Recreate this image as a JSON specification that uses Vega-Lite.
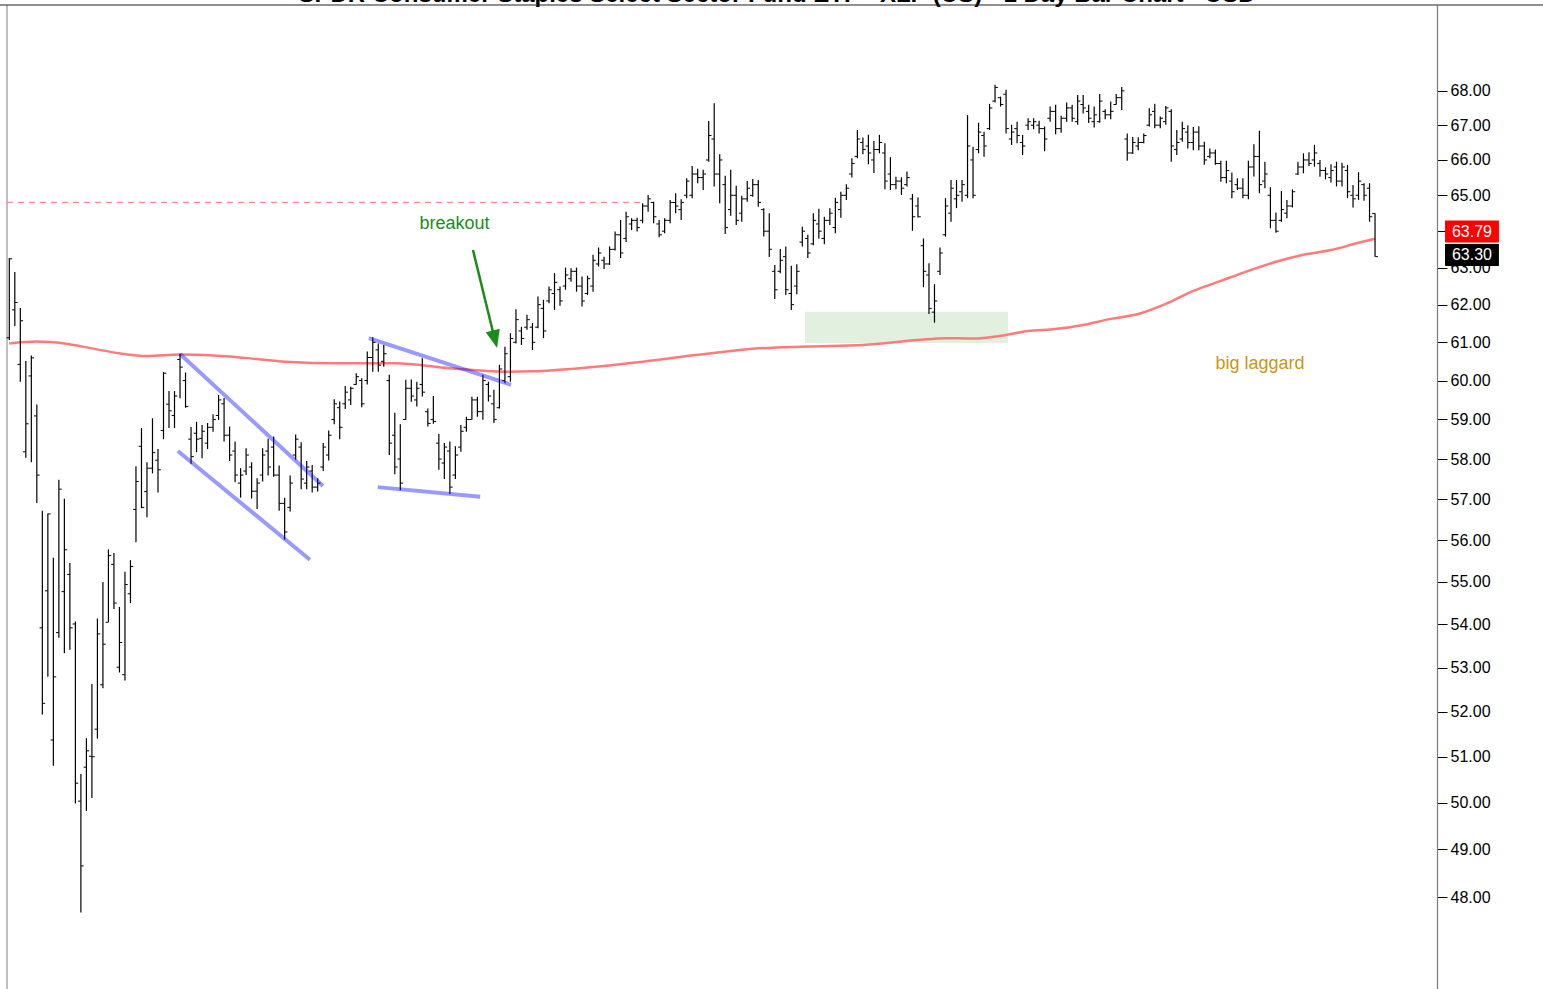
{
  "$schema": "https://vega.github.io/schema/vega-lite/v6.json",
  "width": 1430,
  "height": 984,
  "autosize": {"type": "none"},
  "padding": {"left": 7, "top": 5, "right": 106, "bottom": 0},
  "background": "white",
  "config": {"view": {"stroke": null}, "font": "Liberation Sans"},
  "datasets": {
    "bars": [
      {"i":0,"o":61.12,"h":63.26,"l":61.06,"c":63.24},{"i":1,"o":61.86,"h":62.88,"l":61.43,"c":62.06},{"i":2,"o":60.42,"h":61.91,"l":59.97,"c":61.57},{"i":3,"o":58.18,"h":60.51,"l":58.03,"c":58.89},{"i":4,"o":60.12,"h":60.65,"l":57.92,"c":60.59},
      {"i":5,"o":59.09,"h":59.38,"l":56.91,"c":57.6},{"i":6,"o":53.92,"h":56.72,"l":51.94,"c":52.19},{"i":7,"o":54.79,"h":56.65,"l":52.79,"c":56.64},{"i":8,"o":51.37,"h":55.58,"l":50.8,"c":52.79},{"i":9,"o":53.81,"h":57.48,"l":53.69,"c":57.25},
      {"i":10,"o":54.77,"h":57.01,"l":53.33,"c":55.77},{"i":11,"o":55.18,"h":55.45,"l":53.41,"c":53.92},{"i":12,"o":54.01,"h":54.07,"l":49.98,"c":50.42},{"i":13,"o":50.03,"h":50.62,"l":47.68,"c":48.65},{"i":14,"o":50.77,"h":51.41,"l":49.82,"c":51.13},
      {"i":15,"o":51.01,"h":52.63,"l":50.1,"c":51.0},{"i":16,"o":51.61,"h":54.14,"l":51.4,"c":53.78},{"i":17,"o":52.61,"h":55.0,"l":52.53,"c":53.54},{"i":18,"o":54.05,"h":55.78,"l":54.05,"c":55.63},{"i":19,"o":55.42,"h":55.69,"l":54.36,"c":54.5},
      {"i":20,"o":53.01,"h":54.41,"l":52.89,"c":53.58},{"i":21,"o":52.84,"h":55.24,"l":52.71,"c":54.94},{"i":22,"o":54.72,"h":55.52,"l":54.5,"c":55.37},{"i":23,"o":56.75,"h":57.82,"l":55.95,"c":57.44},{"i":24,"o":58.32,"h":58.78,"l":56.78,"c":56.8},
      {"i":25,"o":57.19,"h":57.92,"l":56.56,"c":57.77},{"i":26,"o":57.77,"h":59.03,"l":57.64,"c":58.16},{"i":27,"o":57.97,"h":58.25,"l":57.17,"c":57.73},{"i":28,"o":58.72,"h":60.22,"l":58.5,"c":60.19},{"i":29,"o":59.39,"h":59.73,"l":58.78,"c":59.22},
      {"i":30,"o":59.1,"h":59.73,"l":58.78,"c":59.6},{"i":31,"o":60.55,"h":60.7,"l":59.54,"c":60.35},{"i":32,"o":60.0,"h":60.21,"l":59.3,"c":59.33},{"i":33,"o":58.5,"h":58.81,"l":57.88,"c":58.06},{"i":34,"o":58.65,"h":58.94,"l":58.17,"c":58.5},
      {"i":35,"o":58.52,"h":58.86,"l":58.02,"c":58.7},{"i":36,"o":58.4,"h":58.91,"l":58.25,"c":58.8},{"i":37,"o":58.8,"h":59.13,"l":58.69,"c":59.0},{"i":38,"o":59.1,"h":59.63,"l":58.99,"c":59.5},{"i":39,"o":59.4,"h":59.55,"l":58.44,"c":58.6},
      {"i":40,"o":58.6,"h":58.82,"l":57.95,"c":58.1},{"i":41,"o":58.2,"h":58.44,"l":57.42,"c":57.6},{"i":42,"o":57.4,"h":57.77,"l":57.04,"c":57.6},{"i":43,"o":57.7,"h":58.27,"l":57.6,"c":58.1},{"i":44,"o":57.8,"h":57.92,"l":57.02,"c":57.2},
      {"i":45,"o":57.2,"h":57.52,"l":56.76,"c":57.4},{"i":46,"o":57.6,"h":58.27,"l":57.44,"c":58.1},{"i":47,"o":58.2,"h":58.51,"l":57.59,"c":57.8},{"i":48,"o":58.3,"h":58.57,"l":57.56,"c":57.6},{"i":49,"o":57.6,"h":57.84,"l":56.72,"c":56.9},
      {"i":50,"o":56.9,"h":57.04,"l":56.02,"c":56.2},{"i":51,"o":56.8,"h":57.59,"l":56.7,"c":57.4},{"i":52,"o":58.1,"h":58.62,"l":57.98,"c":58.5},{"i":53,"o":58.3,"h":58.42,"l":57.25,"c":57.5},{"i":54,"o":57.4,"h":57.95,"l":57.25,"c":57.8},
      {"i":55,"o":57.7,"h":57.85,"l":57.17,"c":57.3},{"i":56,"o":57.3,"h":57.52,"l":57.19,"c":57.4},{"i":57,"o":57.8,"h":58.4,"l":57.7,"c":58.3},{"i":58,"o":58.1,"h":58.72,"l":57.96,"c":58.6},{"i":59,"o":59.0,"h":59.52,"l":58.88,"c":59.4},
      {"i":60,"o":59.3,"h":59.46,"l":58.5,"c":58.8},{"i":61,"o":59.4,"h":59.86,"l":59.27,"c":59.7},{"i":62,"o":59.5,"h":59.84,"l":59.37,"c":59.8},{"i":63,"o":59.9,"h":60.19,"l":59.89,"c":60.1},{"i":64,"o":60.0,"h":60.06,"l":59.31,"c":59.4},
      {"i":65,"o":60.0,"h":60.76,"l":59.9,"c":60.6},{"i":66,"o":60.6,"h":61.13,"l":60.23,"c":61.0},{"i":67,"o":60.8,"h":60.97,"l":60.23,"c":60.4},{"i":68,"o":60.5,"h":60.93,"l":60.36,"c":60.7},{"i":69,"o":60.0,"h":60.15,"l":58.1,"c":58.4},
      {"i":70,"o":58.6,"h":59.17,"l":57.62,"c":57.8},{"i":71,"o":58.0,"h":58.88,"l":57.22,"c":57.4},{"i":72,"o":59.0,"h":60.02,"l":58.99,"c":59.8},{"i":73,"o":59.8,"h":60.03,"l":59.45,"c":59.6},{"i":74,"o":59.5,"h":59.97,"l":59.33,"c":59.8},
      {"i":75,"o":59.9,"h":60.58,"l":59.59,"c":59.7},{"i":76,"o":59.2,"h":59.28,"l":58.82,"c":58.9},{"i":77,"o":59.0,"h":59.6,"l":58.89,"c":58.95},{"i":78,"o":58.4,"h":58.63,"l":57.73,"c":58.0},{"i":79,"o":57.9,"h":58.4,"l":57.5,"c":58.3},
      {"i":80,"o":58.2,"h":58.44,"l":57.13,"c":57.3},{"i":81,"o":57.6,"h":58.32,"l":57.5,"c":58.1},{"i":82,"o":58.3,"h":58.86,"l":58.18,"c":58.7},{"i":83,"o":58.8,"h":59.07,"l":58.69,"c":59.0},{"i":84,"o":59.0,"h":59.58,"l":58.99,"c":59.5},
      {"i":85,"o":59.5,"h":59.58,"l":59.07,"c":59.2},{"i":86,"o":59.2,"h":60.15,"l":58.99,"c":60.0},{"i":87,"o":59.9,"h":59.97,"l":59.46,"c":59.6},{"i":88,"o":59.4,"h":59.76,"l":58.91,"c":59.0},{"i":89,"o":59.3,"h":60.41,"l":59.28,"c":60.3},
      {"i":90,"o":60.0,"h":60.88,"l":59.93,"c":60.7},{"i":91,"o":60.1,"h":61.24,"l":59.97,"c":61.1},{"i":92,"o":61.0,"h":61.88,"l":60.97,"c":61.6},{"i":93,"o":61.3,"h":61.41,"l":60.93,"c":61.1},{"i":94,"o":61.4,"h":61.73,"l":61.33,"c":61.6},
      {"i":95,"o":61.4,"h":61.51,"l":60.8,"c":61.0},{"i":96,"o":61.4,"h":62.22,"l":61.37,"c":62.0},{"i":97,"o":61.9,"h":62.13,"l":61.11,"c":61.3},{"i":98,"o":62.1,"h":62.49,"l":62.04,"c":62.4},{"i":99,"o":62.3,"h":62.85,"l":61.86,"c":62.6},
      {"i":100,"o":62.4,"h":62.49,"l":61.97,"c":62.1},{"i":101,"o":62.5,"h":63.0,"l":62.4,"c":62.8},{"i":102,"o":62.7,"h":62.98,"l":62.62,"c":62.9},{"i":103,"o":62.9,"h":63.0,"l":62.35,"c":62.5},{"i":104,"o":62.5,"h":62.76,"l":61.95,"c":62.1},
      {"i":105,"o":62.3,"h":62.78,"l":62.26,"c":62.7},{"i":106,"o":62.5,"h":63.35,"l":62.35,"c":63.2},{"i":107,"o":63.1,"h":63.55,"l":63.03,"c":63.4},{"i":108,"o":63.2,"h":63.3,"l":62.96,"c":63.1},{"i":109,"o":63.1,"h":63.58,"l":63.07,"c":63.5},
      {"i":110,"o":63.5,"h":63.99,"l":63.47,"c":63.9},{"i":111,"o":63.9,"h":64.31,"l":63.26,"c":63.4},{"i":112,"o":63.8,"h":64.54,"l":63.7,"c":64.4},{"i":113,"o":64.2,"h":64.36,"l":64.03,"c":64.3},{"i":114,"o":64.3,"h":64.37,"l":63.99,"c":64.1},
      {"i":115,"o":64.3,"h":64.78,"l":64.22,"c":64.7},{"i":116,"o":64.7,"h":65.01,"l":64.54,"c":64.9},{"i":117,"o":64.8,"h":64.82,"l":64.22,"c":64.4},{"i":118,"o":64.2,"h":64.31,"l":63.83,"c":63.9},{"i":119,"o":64.0,"h":64.36,"l":63.94,"c":64.3},
      {"i":120,"o":64.3,"h":64.87,"l":64.22,"c":64.8},{"i":121,"o":64.8,"h":65.06,"l":64.5,"c":64.7},{"i":122,"o":64.6,"h":64.89,"l":64.31,"c":64.8},{"i":123,"o":65.0,"h":65.48,"l":64.92,"c":65.4},{"i":124,"o":65.0,"h":65.83,"l":64.92,"c":65.6},
      {"i":125,"o":65.6,"h":65.75,"l":65.34,"c":65.5},{"i":126,"o":65.5,"h":65.72,"l":65.15,"c":65.6},{"i":127,"o":66.0,"h":67.12,"l":65.95,"c":66.7},{"i":128,"o":66.6,"h":67.64,"l":65.25,"c":65.6},{"i":129,"o":65.6,"h":66.16,"l":64.78,"c":66.0},
      {"i":130,"o":65.3,"h":65.55,"l":63.92,"c":64.1},{"i":131,"o":64.6,"h":65.72,"l":64.43,"c":65.0},{"i":132,"o":65.0,"h":65.27,"l":64.17,"c":64.3},{"i":133,"o":64.5,"h":64.99,"l":64.26,"c":64.9},{"i":134,"o":64.9,"h":65.4,"l":64.82,"c":65.2},
      {"i":135,"o":65.0,"h":65.46,"l":64.96,"c":65.3},{"i":136,"o":65.3,"h":65.43,"l":64.68,"c":64.8},{"i":137,"o":64.6,"h":64.64,"l":63.85,"c":64.0},{"i":138,"o":64.0,"h":64.5,"l":63.29,"c":63.5},{"i":139,"o":62.9,"h":63.07,"l":62.15,"c":62.4},
      {"i":140,"o":62.9,"h":63.51,"l":62.85,"c":63.2},{"i":141,"o":63.3,"h":63.58,"l":62.26,"c":62.4},{"i":142,"o":62.3,"h":63.05,"l":61.86,"c":62.0},{"i":143,"o":62.5,"h":63.09,"l":62.28,"c":62.9},{"i":144,"o":63.7,"h":64.12,"l":63.58,"c":64.0},
      {"i":145,"o":63.8,"h":63.9,"l":63.26,"c":63.4},{"i":146,"o":63.65,"h":64.5,"l":63.61,"c":64.3},{"i":147,"o":64.2,"h":64.62,"l":63.8,"c":64.0},{"i":148,"o":63.8,"h":64.4,"l":63.64,"c":64.3},{"i":149,"o":64.3,"h":64.64,"l":64.17,"c":64.5},
      {"i":150,"o":64.1,"h":64.93,"l":63.94,"c":64.8},{"i":151,"o":64.6,"h":65.1,"l":64.37,"c":65.0},{"i":152,"o":65.0,"h":65.31,"l":64.87,"c":65.2},{"i":153,"o":65.6,"h":66.05,"l":65.5,"c":65.9},{"i":154,"o":66.1,"h":66.86,"l":66.05,"c":66.6},
      {"i":155,"o":66.5,"h":66.64,"l":66.16,"c":66.3},{"i":156,"o":66.4,"h":66.72,"l":65.88,"c":66.2},{"i":157,"o":66.0,"h":66.54,"l":65.63,"c":66.3},{"i":158,"o":66.3,"h":66.72,"l":66.19,"c":66.5},{"i":159,"o":66.2,"h":66.48,"l":65.17,"c":65.4},
      {"i":160,"o":65.6,"h":66.08,"l":65.15,"c":65.3},{"i":161,"o":65.3,"h":65.52,"l":65.17,"c":65.4},{"i":162,"o":65.4,"h":65.51,"l":65.01,"c":65.2},{"i":163,"o":65.3,"h":65.67,"l":65.25,"c":65.5},{"i":164,"o":64.9,"h":65.04,"l":64.01,"c":64.4},
      {"i":165,"o":64.7,"h":64.94,"l":64.38,"c":64.4},{"i":166,"o":63.6,"h":63.8,"l":62.47,"c":62.9},{"i":167,"o":62.8,"h":63.12,"l":61.75,"c":61.9},{"i":168,"o":61.8,"h":62.55,"l":61.52,"c":62.1},{"i":169,"o":62.9,"h":63.55,"l":62.8,"c":63.4},
      {"i":170,"o":63.9,"h":64.92,"l":63.85,"c":64.7},{"i":171,"o":64.5,"h":65.43,"l":64.26,"c":65.2},{"i":172,"o":64.9,"h":65.43,"l":64.64,"c":65.0},{"i":173,"o":65.1,"h":65.43,"l":64.82,"c":65.3},{"i":174,"o":65.0,"h":67.29,"l":64.92,"c":66.4},
      {"i":175,"o":66.0,"h":66.38,"l":64.92,"c":65.0},{"i":176,"o":66.3,"h":67.07,"l":66.19,"c":66.8},{"i":177,"o":66.7,"h":66.81,"l":66.09,"c":66.4},{"i":178,"o":66.9,"h":67.62,"l":66.86,"c":67.5},{"i":179,"o":67.7,"h":68.18,"l":67.66,"c":68.1},
      {"i":180,"o":67.8,"h":67.83,"l":67.54,"c":67.6},{"i":181,"o":67.9,"h":68.03,"l":66.76,"c":66.9},{"i":182,"o":66.6,"h":67.01,"l":66.43,"c":66.8},{"i":183,"o":66.9,"h":67.1,"l":66.48,"c":66.7},{"i":184,"o":66.5,"h":66.72,"l":66.14,"c":66.4},
      {"i":185,"o":67.0,"h":67.2,"l":66.86,"c":67.1},{"i":186,"o":67.0,"h":67.2,"l":66.88,"c":67.1},{"i":187,"o":67.0,"h":67.13,"l":66.76,"c":66.9},{"i":188,"o":66.9,"h":66.96,"l":66.25,"c":66.6},{"i":189,"o":67.2,"h":67.54,"l":67.1,"c":67.4},
      {"i":190,"o":67.4,"h":67.59,"l":66.74,"c":66.9},{"i":191,"o":66.9,"h":67.27,"l":66.78,"c":67.2},{"i":192,"o":67.2,"h":67.66,"l":67.1,"c":67.5},{"i":193,"o":67.5,"h":67.59,"l":67.1,"c":67.2},{"i":194,"o":67.1,"h":67.88,"l":67.01,"c":67.7},
      {"i":195,"o":67.6,"h":67.88,"l":67.34,"c":67.5},{"i":196,"o":67.4,"h":67.59,"l":67.06,"c":67.2},{"i":197,"o":67.1,"h":67.54,"l":66.93,"c":67.3},{"i":198,"o":67.1,"h":67.91,"l":67.07,"c":67.7},{"i":199,"o":67.4,"h":67.46,"l":67.17,"c":67.3},
      {"i":200,"o":67.3,"h":67.69,"l":67.17,"c":67.4},{"i":201,"o":67.6,"h":67.91,"l":67.59,"c":67.8},{"i":202,"o":67.8,"h":68.11,"l":67.44,"c":68.0},{"i":203,"o":66.6,"h":66.76,"l":65.98,"c":66.2},{"i":204,"o":66.2,"h":66.66,"l":66.17,"c":66.5},
      {"i":205,"o":66.4,"h":66.65,"l":66.28,"c":66.5},{"i":206,"o":66.5,"h":66.76,"l":66.48,"c":66.7},{"i":207,"o":67.0,"h":67.49,"l":66.96,"c":67.3},{"i":208,"o":67.4,"h":67.62,"l":66.91,"c":67.0},{"i":209,"o":67.0,"h":67.25,"l":66.91,"c":67.2},
      {"i":210,"o":67.1,"h":67.56,"l":67.01,"c":67.5},{"i":211,"o":67.4,"h":67.46,"l":65.95,"c":66.4},{"i":212,"o":66.3,"h":66.86,"l":66.14,"c":66.5},{"i":213,"o":66.6,"h":67.1,"l":66.52,"c":66.9},{"i":214,"o":66.8,"h":67.0,"l":66.33,"c":66.5},
      {"i":215,"o":66.5,"h":66.95,"l":66.28,"c":66.8},{"i":216,"o":66.8,"h":66.97,"l":66.28,"c":66.4},{"i":217,"o":66.4,"h":66.52,"l":65.86,"c":66.0},{"i":218,"o":66.1,"h":66.33,"l":66.05,"c":66.2},{"i":219,"o":66.2,"h":66.3,"l":65.86,"c":65.9},
      {"i":220,"o":65.9,"h":65.98,"l":65.38,"c":65.5},{"i":221,"o":65.5,"h":65.98,"l":65.34,"c":65.7},{"i":222,"o":65.4,"h":65.64,"l":64.92,"c":65.1},{"i":223,"o":65.3,"h":65.48,"l":65.15,"c":65.2},{"i":224,"o":65.2,"h":65.48,"l":64.92,"c":65.0},
      {"i":225,"o":65.0,"h":65.98,"l":64.89,"c":65.8},{"i":226,"o":65.8,"h":66.45,"l":65.53,"c":66.1},{"i":227,"o":66.1,"h":66.84,"l":65.06,"c":65.3},{"i":228,"o":65.4,"h":65.95,"l":65.2,"c":65.6},{"i":229,"o":65.0,"h":65.23,"l":64.08,"c":64.3},
      {"i":230,"o":64.3,"h":64.52,"l":63.96,"c":64.0},{"i":231,"o":64.3,"h":65.12,"l":64.26,"c":64.6},{"i":232,"o":64.5,"h":64.87,"l":64.36,"c":64.7},{"i":233,"o":64.7,"h":65.17,"l":64.66,"c":65.1},{"i":234,"o":65.6,"h":65.95,"l":65.57,"c":65.8},
      {"i":235,"o":65.8,"h":66.19,"l":65.62,"c":66.0},{"i":236,"o":66.0,"h":66.22,"l":65.83,"c":65.9},{"i":237,"o":66.0,"h":66.43,"l":65.81,"c":66.2},{"i":238,"o":65.9,"h":66.0,"l":65.52,"c":65.7},{"i":239,"o":65.7,"h":65.79,"l":65.45,"c":65.6},
      {"i":240,"o":65.5,"h":65.88,"l":65.36,"c":65.7},{"i":241,"o":65.8,"h":65.95,"l":65.25,"c":65.4},{"i":242,"o":65.4,"h":65.92,"l":65.25,"c":65.8},{"i":243,"o":65.7,"h":65.86,"l":64.92,"c":65.1},{"i":244,"o":65.0,"h":65.29,"l":64.66,"c":64.9},
      {"i":245,"o":65.0,"h":65.65,"l":64.87,"c":65.4},{"i":246,"o":65.3,"h":65.34,"l":64.85,"c":65.0},{"i":247,"o":65.2,"h":65.34,"l":64.26,"c":64.4},{"i":248,"o":64.49,"h":64.5,"l":63.3,"c":63.3}
    ],
    "ma": [
      {"i":0,"ma":60.97},{"i":5,"ma":61.02},{"i":10,"ma":60.97},{"i":15,"ma":60.84},{"i":20,"ma":60.71},{"i":25,"ma":60.64},{"i":31,"ma":60.68},{"i":40,"ma":60.63},{"i":45,"ma":60.56},{"i":50,"ma":60.49},
      {"i":60,"ma":60.45},{"i":70,"ma":60.45},{"i":80,"ma":60.32},{"i":90,"ma":60.23},{"i":95,"ma":60.24},{"i":105,"ma":60.34},{"i":115,"ma":60.49},{"i":125,"ma":60.67},{"i":135,"ma":60.83},{"i":145,"ma":60.89},
      {"i":155,"ma":60.93},{"i":165,"ma":61.06},{"i":170,"ma":61.11},{"i":175,"ma":61.1},{"i":180,"ma":61.17},{"i":185,"ma":61.3},{"i":190,"ma":61.35},{"i":195,"ma":61.46},{"i":200,"ma":61.62},{"i":205,"ma":61.75},
      {"i":210,"ma":62.02},{"i":215,"ma":62.37},{"i":220,"ma":62.64},{"i":225,"ma":62.91},{"i":230,"ma":63.16},{"i":235,"ma":63.35},{"i":240,"ma":63.48},{"i":245,"ma":63.68},{"i":248,"ma":63.79}
    ]
  },
  "layer": [
    {
      "data": {"values": [{"start": 144.5, "end": 181.35, "bottom": 60.98, "top": 61.81}]},
      "mark": {"type": "rect", "color": "#e2f0df"},
      "encoding": {
        "x": {"field": "start", "type": "quantitative", "scale": {"type": "linear", "domain": [-0.418, 259.25], "nice": false, "zero": false}, "axis": null},
        "x2": {"field": "end"},
        "y": {"field": "bottom", "type": "quantitative", "scale": {"type": "log", "domain": [46.13, 70.57], "nice": false},
          "axis": {"orient": "right", "values": [48,49,50,51,52,53,54,55,56,57,58,59,60,61,62,63,64,65,66,67,68], "format": ".2f", "tickSize": 10, "tickColor": "#000000", "tickWidth": 1, "domainColor": "#808080", "domainWidth": 1.3, "labelFontSize": 16, "labelColor": "#000000", "labelFont": "Liberation Sans", "labelPadding": 3, "grid": false, "title": null, "labelFlush": false, "labelOverlap": false, "labelBound": false, "ticks": true, "domain": true}},
        "y2": {"field": "top"}
      }
    },
    {
      "data": {"values": [{"edge": "left"}]},
      "mark": {"type": "rule", "color": "#808080", "strokeWidth": 1},
      "encoding": {
        "x": {"datum": -0.418, "type": "quantitative", "scale": {"type": "linear", "domain": [-0.418, 259.25], "nice": false, "zero": false}, "axis": null},
        "y": {"datum": 46.13, "type": "quantitative", "scale": {"type": "log", "domain": [46.13, 70.57], "nice": false}},
        "y2": {"datum": 70.57}
      }
    },
    {
      "data": {"values": [{"title": "SPDR Consumer Staples Select Sector Fund ETF - XLP (US) - 1 Day Bar Chart - USD"}]},
      "mark": {"type": "text", "color": "#000000", "font": "Liberation Sans", "fontSize": 24, "fontWeight": "bold", "align": "center", "baseline": "alphabetic", "yOffset": -3},
      "encoding": {
        "x": {"datum": 139.4, "type": "quantitative", "scale": {"type": "linear", "domain": [-0.418, 259.25], "nice": false, "zero": false}, "axis": null},
        "y": {"datum": 70.57, "type": "quantitative", "scale": {"type": "log", "domain": [46.13, 70.57], "nice": false}},
        "text": {"field": "title"}
      }
    },
    {
      "data": {"values": [{"edge": "top"}]},
      "mark": {"type": "rule", "color": "#222222", "strokeWidth": 1.2},
      "encoding": {
        "x": {"datum": -1.7, "type": "quantitative", "scale": {"type": "linear", "domain": [-0.418, 259.25], "nice": false, "zero": false}, "axis": null},
        "x2": {"datum": 279},
        "y": {"datum": 70.57, "type": "quantitative", "scale": {"type": "log", "domain": [46.13, 70.57], "nice": false}}
      }
    },
    {
      "data": {"values": [{"from": -0.418, "to": 115.3, "level": 64.8}]},
      "mark": {"type": "rule", "color": "#ff8c8c", "strokeWidth": 1.3, "strokeDash": [6, 5]},
      "encoding": {
        "x": {"field": "from", "type": "quantitative", "scale": {"type": "linear", "domain": [-0.418, 259.25], "nice": false, "zero": false}, "axis": null},
        "x2": {"field": "to"},
        "y": {"field": "level", "type": "quantitative", "scale": {"type": "log", "domain": [46.13, 70.57], "nice": false}}
      }
    },
    {
      "data": {"name": "ma"},
      "mark": {"type": "line", "color": "#ff7a7a", "strokeWidth": 2.5, "interpolate": "monotone"},
      "encoding": {
        "x": {"field": "i", "type": "quantitative", "scale": {"type": "linear", "domain": [-0.418, 259.25], "nice": false, "zero": false}, "axis": null},
        "y": {"field": "ma", "type": "quantitative", "scale": {"type": "log", "domain": [46.13, 70.57], "nice": false}}
      }
    },
    {
      "data": {"name": "bars"},
      "mark": {"type": "rule", "color": "#000000", "strokeWidth": 1.2},
      "encoding": {
        "x": {"field": "i", "type": "quantitative", "scale": {"type": "linear", "domain": [-0.418, 259.25], "nice": false, "zero": false}, "axis": null},
        "y": {"field": "l", "type": "quantitative", "scale": {"type": "log", "domain": [46.13, 70.57], "nice": false}},
        "y2": {"field": "h"}
      }
    },
    {
      "data": {"name": "bars"},
      "mark": {"type": "tick", "orient": "horizontal", "size": 2.6, "thickness": 1, "xOffset": -1.5, "color": "#000000", "opacity": 1},
      "encoding": {
        "x": {"field": "i", "type": "quantitative", "scale": {"type": "linear", "domain": [-0.418, 259.25], "nice": false, "zero": false}, "axis": null},
        "y": {"field": "o", "type": "quantitative", "scale": {"type": "log", "domain": [46.13, 70.57], "nice": false}}
      }
    },
    {
      "data": {"name": "bars"},
      "mark": {"type": "tick", "orient": "horizontal", "size": 2.6, "thickness": 1, "xOffset": 1.5, "color": "#000000", "opacity": 1},
      "encoding": {
        "x": {"field": "i", "type": "quantitative", "scale": {"type": "linear", "domain": [-0.418, 259.25], "nice": false, "zero": false}, "axis": null},
        "y": {"field": "c", "type": "quantitative", "scale": {"type": "log", "domain": [46.13, 70.57], "nice": false}}
      }
    },
    {
      "data": {"values": [
        {"i1": 31.0, "p1": 60.69, "i2": 56.96, "p2": 57.33},
        {"i1": 30.6, "p1": 58.2, "i2": 54.6, "p2": 55.53},
        {"i1": 65.3, "p1": 61.11, "i2": 91.1, "p2": 59.89},
        {"i1": 66.9, "p1": 57.3, "i2": 85.5, "p2": 57.06}
      ]},
      "mark": {"type": "rule", "color": "#0000ff", "opacity": 0.4, "strokeWidth": 4, "strokeCap": "butt"},
      "encoding": {
        "x": {"field": "i1", "type": "quantitative", "scale": {"type": "linear", "domain": [-0.418, 259.25], "nice": false, "zero": false}, "axis": null},
        "x2": {"field": "i2"},
        "y": {"field": "p1", "type": "quantitative", "scale": {"type": "log", "domain": [46.13, 70.57], "nice": false}},
        "y2": {"field": "p2"}
      }
    },
    {
      "data": {"values": [{"i1": 84.2, "p1": 63.48, "i2": 87.83, "p2": 61.27}]},
      "mark": {"type": "rule", "color": "#1a8c1a", "strokeWidth": 2.5},
      "encoding": {
        "x": {"field": "i1", "type": "quantitative", "scale": {"type": "linear", "domain": [-0.418, 259.25], "nice": false, "zero": false}, "axis": null},
        "x2": {"field": "i2"},
        "y": {"field": "p1", "type": "quantitative", "scale": {"type": "log", "domain": [46.13, 70.57], "nice": false}},
        "y2": {"field": "p2"}
      }
    },
    {
      "data": {"values": [{"i": 88.18, "p": 61.08}]},
      "mark": {"type": "point", "shape": "M-0.8,-1L0.8,-1L0,1Z", "size": 324, "angle": 346, "filled": true, "color": "#1a8c1a", "opacity": 1, "strokeWidth": 0},
      "encoding": {
        "x": {"field": "i", "type": "quantitative", "scale": {"type": "linear", "domain": [-0.418, 259.25], "nice": false, "zero": false}, "axis": null},
        "y": {"field": "p", "type": "quantitative", "scale": {"type": "log", "domain": [46.13, 70.57], "nice": false}}
      }
    },
    {
      "data": {"values": [{"note": "breakout", "i": 80.84, "p": 64.19}]},
      "mark": {"type": "text", "color": "#1a8c1a", "font": "Liberation Sans", "fontSize": 18, "align": "center", "baseline": "middle"},
      "encoding": {
        "x": {"field": "i", "type": "quantitative", "scale": {"type": "linear", "domain": [-0.418, 259.25], "nice": false, "zero": false}, "axis": null},
        "y": {"field": "p", "type": "quantitative", "scale": {"type": "log", "domain": [46.13, 70.57], "nice": false}},
        "text": {"field": "note"}
      }
    },
    {
      "data": {"values": [{"note": "big laggard", "i": 227.1, "p": 60.43}]},
      "mark": {"type": "text", "color": "#c8961a", "font": "Liberation Sans", "fontSize": 18, "align": "center", "baseline": "middle"},
      "encoding": {
        "x": {"field": "i", "type": "quantitative", "scale": {"type": "linear", "domain": [-0.418, 259.25], "nice": false, "zero": false}, "axis": null},
        "y": {"field": "p", "type": "quantitative", "scale": {"type": "log", "domain": [46.13, 70.57], "nice": false}},
        "text": {"field": "note"}
      }
    },
    {
      "data": {"values": [{"tag": "63.79", "v": 63.79}]},
      "layer": [
        {"mark": {"type": "point", "shape": "M-2.45,-1L2.45,-1L2.45,1L-2.45,1Z", "size": 484, "filled": true, "color": "#ff0000", "opacity": 1, "strokeWidth": 0, "yOffset": -7.2}},
        {"mark": {"type": "text", "color": "#ffffff", "font": "Liberation Sans", "fontSize": 16, "align": "center", "baseline": "middle", "yOffset": -7.2}, "encoding": {"text": {"field": "tag"}}}
      ],
      "encoding": {
        "x": {"datum": 265.6, "type": "quantitative", "scale": {"type": "linear", "domain": [-0.418, 259.25], "nice": false, "zero": false}, "axis": null},
        "y": {"field": "v", "type": "quantitative", "scale": {"type": "log", "domain": [46.13, 70.57], "nice": false}}
      }
    },
    {
      "data": {"values": [{"tag": "63.30", "v": 63.3}]},
      "layer": [
        {"mark": {"type": "point", "shape": "M-2.45,-1L2.45,-1L2.45,1L-2.45,1Z", "size": 484, "filled": true, "color": "#000000", "opacity": 1, "strokeWidth": 0, "yOffset": -1.7}},
        {"mark": {"type": "text", "color": "#ffffff", "font": "Liberation Sans", "fontSize": 16, "align": "center", "baseline": "middle", "yOffset": -1.7}, "encoding": {"text": {"field": "tag"}}}
      ],
      "encoding": {
        "x": {"datum": 265.6, "type": "quantitative", "scale": {"type": "linear", "domain": [-0.418, 259.25], "nice": false, "zero": false}, "axis": null},
        "y": {"field": "v", "type": "quantitative", "scale": {"type": "log", "domain": [46.13, 70.57], "nice": false}}
      }
    }
  ]
}
